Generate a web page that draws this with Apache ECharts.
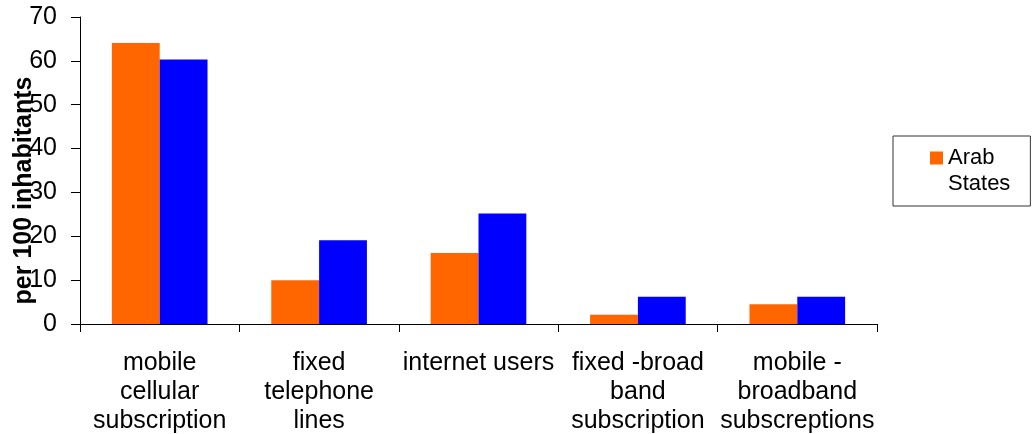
<!DOCTYPE html>
<html>
<head>
<meta charset="utf-8">
<script src="https://cdn.jsdelivr.net/npm/echarts@6/dist/echarts.min.js"></script>
<style>html,body{margin:0;padding:0;background:#fff;}#chart{width:1034px;height:434px;}</style>
</head>
<body>
<div id="chart"></div>
<script>
const categories = [
  'mobile\ncellular\nsubscription',
  'fixed\ntelephone\nlines',
  'internet users',
  'fixed -broad\nband\nsubscription',
  'mobile -\nbroadband\nsubscreptions'
];
const arabStates = [64.1, 10.0, 16.2, 2.1, 4.5];
const world = [60.3, 19.1, 25.2, 6.2, 6.2];
const yTicks = { min: 0, max: 70, interval: 10 };

const FONT = "'Liberation Sans', Arial, sans-serif";
const chart = echarts.init(document.getElementById('chart'));
chart.setOption({
  animation: false,
  backgroundColor: '#fff',
  grid: { left: 80, right: 157, top: 17, bottom: 110, containLabel: false, outerBoundsMode: 'none' },
  legend: {
    data: ['Arab States'],
    left: 893, top: 136,
    orient: 'vertical',
    padding: [9, 20, 9, 37],
    borderColor: '#333', borderWidth: 1,
    itemWidth: 13, itemHeight: 52,
    icon: 'path://M0,0L0,0M0,6.5L13,6.5L13,19.5L0,19.5ZM0,52L0,52',
    formatter: name => name.replace(' ', '\n'),
    textStyle: { fontSize: 22, lineHeight: 26, color: '#000', fontFamily: FONT }
  },
  xAxis: {
    type: 'category',
    data: categories,
    axisLine: { lineStyle: { color: '#000', width: 1 } },
    axisTick: { show: true, length: 8, lineStyle: { color: '#000' } },
    axisLabel: { interval: 0, margin: 25, fontSize: 25, lineHeight: 29, color: '#000', fontFamily: FONT, align: 'center' }
  },
  yAxis: {
    type: 'value',
    min: yTicks.min, max: yTicks.max, interval: yTicks.interval,
    name: 'per 100 inhabitants',
    nameLocation: 'middle',
    nameGap: 43,
    nameMoveOverlap: false,
    nameTextStyle: { fontSize: 25, fontWeight: 'bold', color: '#000', fontFamily: FONT, padding: [0, 40, 0, 0] },
    axisLine: { show: true, lineStyle: { color: '#000', width: 1 } },
    axisTick: { show: true, length: 9, lineStyle: { color: '#000' } },
    axisLabel: { margin: 23, fontSize: 25, color: '#000', fontFamily: FONT },
    splitLine: { show: false }
  },
  series: [
    { name: 'Arab States', type: 'bar', data: arabStates, barWidth: '30%', barGap: '0%', itemStyle: { color: '#FF6600' } },
    { name: 'World', type: 'bar', data: world, barWidth: '30%', barGap: '0%', itemStyle: { color: '#0000FF' } }
  ]
});
</script>
</body>
</html>
